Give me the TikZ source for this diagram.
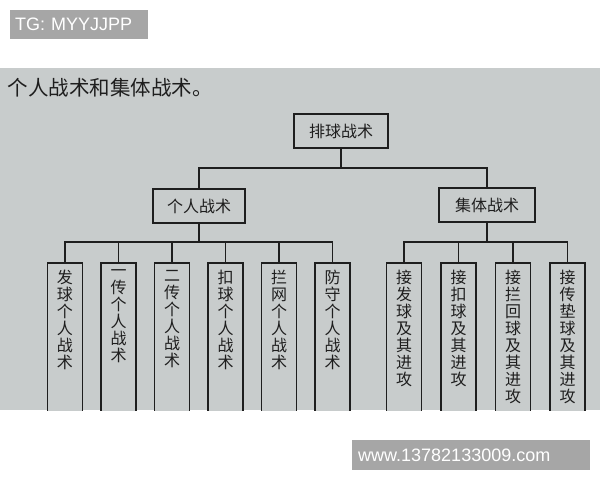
\documentclass[tikz,border=0pt]{standalone}
\usepackage{fontspec}
\setmainfont{Noto Sans CJK SC}
\newfontfamily\latin{Liberation Sans}
\usetikzlibrary{positioning}
\definecolor{photo}{RGB}{200,204,204}
\definecolor{ink}{RGB}{30,30,30}
\definecolor{markgray}{RGB}{166,166,166}
\newcommand{\vtext}[1]{\parbox[t][150pt][t]{18pt}{\fontsize{16}{17}\selectfont\centering #1}}
\tikzset{
  headbox/.style={draw=ink, line width=1.8pt, fill=photo, text=ink, minimum width=94pt, minimum height=34pt, font=\fontsize{16}{16}\selectfont},
  leafbox/.style={draw=ink, line width=1.8pt, fill=photo, text=ink, inner xsep=8.5pt, inner ysep=7pt, minimum width=35pt},
  branch/.style={draw=ink, line width=1.4pt},
  markbox/.style={fill=markgray, text=white, inner ysep=0pt, minimum height=30pt, font=\latin\fontsize{18}{18}\selectfont}
}
\begin{document}
\begin{tikzpicture}[x=1pt,y=-1pt]
\useasboundingbox (0,0) rectangle (600,480);
\fill[white] (0,0) rectangle (600,480);
\node[markbox, anchor=north west, inner xsep=5pt, text width=128pt, minimum height=29pt] (tg) at (10,10) {TG: MYYJJPP};
\node[markbox, anchor=north west, inner xsep=6pt, text width=226pt] (www) at (352,440) {www.13782133009.com};
\begin{scope}
\clip (0,68) rectangle (600,410);
\fill[photo] (0,68) rectangle (600,410);
\node[anchor=west, text=ink, font=\fontsize{20.5}{21}\selectfont] (title) at (4,88) {个人战术和集体战术。};
\node[headbox](volley) at (341,131) {排球战术};
\node[headbox, minimum width=92pt](single) at (199,206) {个人战术};
\node[headbox, minimum width=96pt](team) at (487,205) {集体战术};
\coordinate (split) at (341,168);
\coordinate (splitl) at (199,242);
\coordinate (splitr) at (487,242);
% individual
\node[leafbox, anchor=north](la) at (65,262) {\vtext{发\\球\\个\\人\\战\\术}};
\node[leafbox, right=16.7pt of la](lb) {\vtext{一\\传\\个\\人\\战\\术}};
\node[leafbox, right=16.7pt of lb](lc) {\vtext{二\\传\\个\\人\\战\\术}};
\node[leafbox, right=16.7pt of lc](ld) {\vtext{扣\\球\\个\\人\\战\\术}};
\node[leafbox, right=16.7pt of ld](le) {\vtext{拦\\网\\个\\人\\战\\术}};
\node[leafbox, right=16.7pt of le](lf) {\vtext{防\\守\\个\\人\\战\\术}};
% team
\node[leafbox, anchor=north](ra) at (404,262) {\vtext{接\\发\\球\\及\\其\\进\\攻}};
\node[leafbox, right=17.7pt of ra](rb) {\vtext{接\\扣\\球\\及\\其\\进\\攻}};
\node[leafbox, right=17.7pt of rb](rc) {\vtext{接\\拦\\回\\球\\及\\其\\进\\攻}};
\node[leafbox, right=17.7pt of rc](rd) {\vtext{接\\传\\垫\\球\\及\\其\\进\\攻}};
\draw[branch] (volley) -- (split);
\draw[branch] (single.north) |- (split) -| (team.north);
\draw[branch] (single) -- (splitl);
\draw[branch] (team) -- (splitr);
\foreach \n in {la,lb,lc,ld,le,lf}
  \draw[branch] (splitl) -| (\n.north);
\foreach \n in {ra,rb,rc,rd}
  \draw[branch] (splitr) -| (\n.north);
\end{scope}
\end{tikzpicture}
\end{document}
